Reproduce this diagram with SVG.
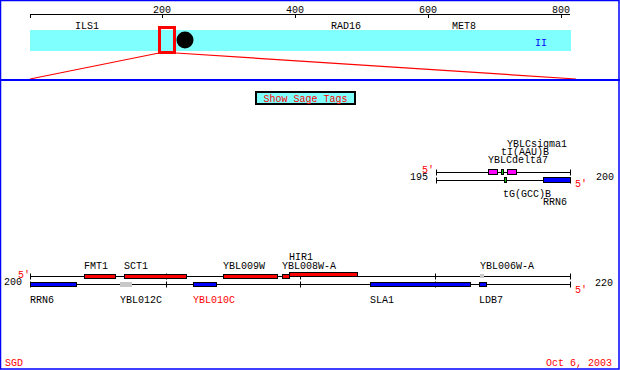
<svg xmlns="http://www.w3.org/2000/svg" width="620" height="370" viewBox="0 0 620 370">
<style>
text{font-family:"Liberation Mono","DejaVu Sans Mono",monospace;font-size:10px;fill:#000}
.red{fill:#f00}
.blue{fill:#00f}
.ln{stroke:#000;stroke-width:1;fill:none}
.fr{fill:#f00;stroke:#000;stroke-width:1}
.fb{fill:#00f;stroke:#000;stroke-width:1}
.fm{fill:#f0f;stroke:#000;stroke-width:1}
.fg{fill:#0c0;stroke:#000;stroke-width:1}
.fy{fill:#c8c8c8;stroke:none}
</style>
<rect x="0" y="0" width="620" height="370" fill="#fff"/>
<rect x="0.5" y="0.5" width="618.5" height="368.5" fill="none" stroke="#00f" stroke-width="1.5"/>

<g id="chromosome">
<line class="ln" x1="30" y1="14.5" x2="570" y2="14.5"/>
<path class="ln" d="M30.5 14v4M162.5 14v4M295.5 14v4M428.5 14v4M561.5 14v4"/>
<text x="162" y="13" text-anchor="middle">200</text>
<text x="295" y="13" text-anchor="middle">400</text>
<text x="428" y="13" text-anchor="middle">600</text>
<text x="561" y="13" text-anchor="middle">800</text>
<text x="75" y="29">ILS1</text>
<text x="331" y="29">RAD16</text>
<text x="452" y="29">MET8</text>
<rect x="30" y="30" width="541" height="21" fill="#80ffff"/>
<text x="535" y="46" class="blue" font-size="14px" font-family="Liberation Serif, serif">II</text>
<rect x="159.5" y="27.5" width="15" height="25" fill="none" stroke="#f00" stroke-width="3"/>
<circle cx="185" cy="40" r="8.5" fill="#000"/>
<polyline points="30,79 159,53" fill="none" stroke="#f00" stroke-width="1.2"/>
<polyline points="176,53 576,79" fill="none" stroke="#f00" stroke-width="1.2"/>
<line x1="0" y1="80" x2="620" y2="80" stroke="#00f" stroke-width="2"/>
</g>

<g id="button">
<rect x="256" y="92" width="99" height="12" fill="#80ffff" stroke="#000" stroke-width="2"/>
<text x="305.5" y="102" text-anchor="middle" class="red">Show Sage Tags</text>
</g>

<g id="connectors">
<line class="ln" x1="436" y1="172.5" x2="571" y2="172.5"/>
<line class="ln" x1="436" y1="180.5" x2="571" y2="180.5"/>
<path class="ln" d="M436.5 169.5v6M570.5 169.5v6M436.5 177.5v6M570.5 177.5v6"/>
<line class="ln" x1="30" y1="276.5" x2="570" y2="276.5"/>
<line class="ln" x1="30" y1="284.5" x2="570" y2="284.5"/>
<path class="ln" d="M30.5 273.5v6M166.5 273.5v6M300.5 273.5v6M435.5 273.5v6M570.5 273.5v6M30.5 281.5v6M166.5 281.5v6M300.5 281.5v6M435.5 281.5v6M570.5 281.5v6"/>
</g>

<g id="upper-map">
<text x="422" y="173" class="red">5′</text>
<text x="410" y="180">195</text>
<text x="596" y="180">200</text>
<text x="575" y="187" class="red">5′</text>
</g>
<g id="YBLCdelta7"><rect class="fm" x="488.5" y="169.5" width="9" height="5"/><text x="488" y="163">YBLCdelta7</text></g>
<g id="tI_AAU_B"><rect class="fg" x="501.5" y="169.5" width="2" height="5"/><text x="501" y="155">tI(AAU)B</text></g>
<g id="YBLCsigma1"><rect class="fm" x="507.5" y="169.5" width="9" height="5"/><text x="507" y="147">YBLCsigma1</text></g>
<g id="tG_GCC_B"><rect class="fg" x="504.5" y="177.5" width="2" height="5"/><text x="503" y="197">tG(GCC)B</text></g>
<g id="RRN6_upper"><rect class="fb" x="543.5" y="177.5" width="27" height="5"/><text x="543" y="205">RRN6</text></g>

<g id="lower-map">
<text x="18" y="278" class="red">5′</text>
<text x="4" y="285">200</text>
<text x="595" y="286">220</text>
<text x="575" y="293" class="red">5′</text>
</g>
<g id="FMT1"><rect class="fr" x="84.5" y="274.5" width="31" height="4"/><text x="84" y="269">FMT1</text></g>
<g id="SCT1"><rect class="fr" x="124.5" y="274.5" width="62" height="4"/><text x="124" y="269">SCT1</text></g>
<g id="YBL009W"><rect class="fr" x="223.5" y="274.5" width="54" height="4"/><text x="223" y="269">YBL009W</text></g>
<g id="YBL008W-A"><rect class="fr" x="282.5" y="274.5" width="7" height="4"/><text x="282" y="269">YBL008W-A</text></g>
<g id="HIR1"><rect class="fr" x="289.5" y="272.5" width="68" height="4"/><text x="289" y="260">HIR1</text></g>
<g id="YBL006W-A"><rect class="fy" x="480" y="274" width="4" height="4"/><text x="480" y="269">YBL006W-A</text></g>
<g id="RRN6"><rect class="fb" x="30.5" y="282.5" width="46" height="4"/><text x="30" y="303">RRN6</text></g>
<g id="YBL012C"><rect class="fy" x="120" y="282" width="12" height="5"/><text x="120" y="303">YBL012C</text></g>
<g id="YBL010C"><rect class="fb" x="193.5" y="282.5" width="23" height="4"/><text x="193" y="303" class="red">YBL010C</text></g>
<g id="SLA1"><rect class="fb" x="370.5" y="282.5" width="100" height="4"/><text x="370" y="303">SLA1</text></g>
<g id="LDB7"><rect class="fb" x="479.5" y="282.5" width="7" height="4"/><text x="479" y="303">LDB7</text></g>

<g id="footer">
<text x="5" y="366" class="red">SGD</text>
<text x="546" y="366" class="red">Oct 6, 2003</text>
</g>
</svg>
